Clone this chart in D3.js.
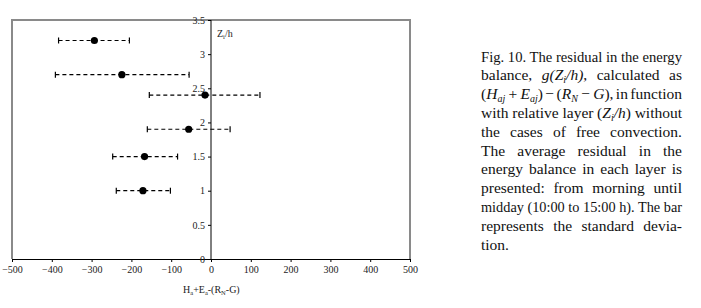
<!DOCTYPE html>
<html><head><meta charset="utf-8">
<script src="https://cdn.jsdelivr.net/npm/d3@7"></script>
<style>body{margin:0;background:#fff}svg{display:block}</style>
</head><body>
<script>
const layers = [3.2, 2.7, 2.4, 1.9, 1.5, 1.0];
const meanResidual = [-293, -224, -15, -56, -167, -171];
const lowResidual = [-383, -391, -155, -160, -247, -238];
const highResidual = [-205, -55, 123, 48, -84, -102];
const xTicks = [-500, -400, -300, -200, -100, 0, 100, 200, 300, 400, 500];
const yTicks = [0, 0.5, 1, 1.5, 2, 2.5, 3, 3.5];

const W = 701, H = 308;
const svg = d3.select("body").append("svg").attr("width", W).attr("height", H);
const x = d3.scaleLinear().domain([-500, 500]).range([12, 410]);
const y = d3.scaleLinear().domain([0, 3.5]).range([259, 20]);
const font = "Liberation Serif";

// frame
svg.append("path")
  .attr("d", `M${x(-500)},${y(0)}V${y(3.5)}H${x(500)}V${y(0)}`)
  .attr("fill", "none").attr("stroke", "#8a8a8a").attr("stroke-width", 2);

// x axis
const xAxis = svg.append("g").attr("transform", `translate(0,${y(0)})`)
  .call(d3.axisBottom(x).tickValues(xTicks).tickSize(3).tickPadding(4).tickFormat(d3.format("d")));
xAxis.attr("font-family", font);
xAxis.select(".domain").attr("stroke", "#000");
xAxis.selectAll("text").attr("font-family", font).attr("font-size", 10).attr("fill", "#222");

// y axis
const yAxis = svg.append("g").attr("transform", `translate(${x(0)},0)`)
  .call(d3.axisLeft(y).tickValues(yTicks).tickSize(3).tickPadding(3).tickFormat(d => String(d)));
yAxis.attr("font-family", font);
yAxis.select(".domain").attr("stroke", "#000").attr("d", `M0,${y(3.5)}V${y(0)}`);
yAxis.selectAll("text").attr("font-family", font).attr("font-size", 10).attr("fill", "#222");

// error bars
const g = svg.append("g");
layers.forEach((l, i) => {
  const yy = y(l);
  g.append("line").attr("x1", x(lowResidual[i])).attr("x2", x(highResidual[i]))
    .attr("y1", yy).attr("y2", yy).attr("stroke", "#000").attr("stroke-width", 1.2)
    .attr("stroke-dasharray", "4,3");
  [lowResidual[i], highResidual[i]].forEach(v => {
    g.append("line").attr("x1", x(v)).attr("x2", x(v)).attr("y1", yy - 3).attr("y2", yy + 3)
      .attr("stroke", "#000").attr("stroke-width", 1.2);
  });
  g.append("circle").attr("cx", x(meanResidual[i])).attr("cy", yy).attr("r", 3.6).attr("fill", "#000");
});

// axis titles
const zt = svg.append("text").attr("x", 217).attr("y", 37).attr("font-family", font).attr("font-size", 10).attr("fill", "#222");
zt.append("tspan").text("Z");
zt.append("tspan").attr("font-size", 6.5).attr("dy", 2).text("i");
zt.append("tspan").attr("dy", -2).text("/h");

const xt = svg.append("text").attr("x", 183).attr("y", 293).attr("font-family", font).attr("font-size", 10).attr("fill", "#222");
xt.append("tspan").text("H");
xt.append("tspan").attr("font-size", 6.5).attr("dy", 2).text("a");
xt.append("tspan").attr("dy", -2).text("+E");
xt.append("tspan").attr("font-size", 6.5).attr("dy", 2).text("a");
xt.append("tspan").attr("dy", -2).text("-(R");
xt.append("tspan").attr("font-size", 6.5).attr("dy", 2).text("N");
xt.append("tspan").attr("dy", -2).text("-G)");

// caption: segments {t, i (italic), s (subscript)}
const N = (t) => ({t}), I = (t) => ({t, i: true}), S = (t) => ({t, i: true, s: true});
const capLines = [
  [N("Fig. 10. The residual in the energy")],
  [N("balance, "), I("g(Z"), S("i"), I("/h)"), N(", calculated as")],
  [N("("), I("H"), S("aj"), I(" + E"), S("aj"), N(") − ("), I("R"), S("N"), I(" − G"), N("), in function")],
  [N("with relative layer ("), I("Z"), S("i"), I("/h"), N(") without")],
  [N("the cases of free convection.")],
  [N("The average residual in the")],
  [N("energy balance in each layer is")],
  [N("presented: from morning until")],
  [N("midday (10:00 to 15:00 h). The bar")],
  [N("represents the standard devia-")],
  [N("tion.")]
];
const capX = 481, capW = 201;
const cap = svg.append("g").attr("font-family", font).attr("font-size", 15.5).attr("fill", "#111");
capLines.forEach((segs, li) => {
  const t = cap.append("text").attr("x", capX).attr("y", 61.5 + li * 18.8);
  let sub = false;
  segs.forEach(s => {
    const ts = t.append("tspan").text(s.t);
    if (s.i) ts.attr("font-style", "italic");
    if (s.s) { ts.attr("font-size", 10).attr("dy", sub ? 0 : 3); sub = true; }
    else if (sub) { ts.attr("dy", -3); sub = false; }
  });
  if (li < capLines.length - 1) {
    const nat = t.node().getComputedTextLength();
    const spaces = segs.map(s => s.t).join("").split(" ").length - 1;
    const ws = (capW - nat) / spaces;
    if (ws >= -1.5) t.attr("word-spacing", ws);
    else t.attr("textLength", capW).attr("lengthAdjust", "spacingAndGlyphs");
  }
});
</script>
</body></html>
